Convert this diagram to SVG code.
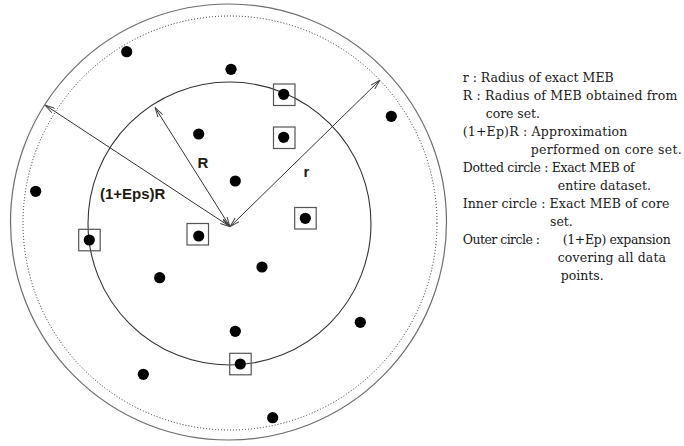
<svg xmlns="http://www.w3.org/2000/svg" width="684" height="446" viewBox="0 0 684 446">
  <style>
    .ring { fill: none; }
    .outer { stroke: #6e6e6e; stroke-width: 1.2; }
    .dotted { stroke: #2a2a2a; stroke-width: 1; stroke-dasharray: 1 2; }
    .inner { stroke: #333; stroke-width: 1.1; }
    .pt { fill: #000; }
    .core { fill: none; stroke: #555; stroke-width: 1.2; }
    .radius { stroke: #333; stroke-width: 1; fill: none; marker-start: url(#tip); marker-end: url(#tip); }
    .lbl { font-family: "Liberation Sans", Arial, sans-serif; font-weight: bold; font-size: 15px; fill: #1f1a12; }
    .key { font-family: "DejaVu Serif", "Liberation Serif", serif; font-size: 12.5px; fill: #1a1a1a; }
  </style>
  <defs>
    <marker id="tip" viewBox="0 0 10 6" refX="10" refY="3" markerWidth="10" markerHeight="6" markerUnits="userSpaceOnUse" orient="auto-start-reverse">
      <path d="M0,0.3 L10,3 L0,5.7" fill="none" stroke="#444" stroke-width="1"/>
    </marker>
  </defs>

  <rect width="684" height="446" fill="#fff"/>

  <!-- enclosing balls -->
  <g id="outer-circle"><circle class="ring outer" cx="228.5" cy="222" r="218"/></g>
  <g id="dotted-circle"><circle class="ring dotted" cx="230" cy="223" r="207"/></g>
  <g id="inner-circle"><circle class="ring inner" cx="229.5" cy="223.5" r="141.5"/></g>

  <!-- radius arrows -->
  <g id="connectors">
    <line class="radius" x1="230" y1="226.7" x2="45" y2="105"/>
    <line class="radius" x1="230" y1="226.7" x2="155" y2="107.5"/>
    <line class="radius" x1="230" y1="226.7" x2="380" y2="80"/>
  </g>

  <!-- radius labels -->
  <g id="label-eps"><text class="lbl" x="100" y="199">(1+Eps)R</text></g>
  <g id="label-R"><text class="lbl" x="197.5" y="167.5">R</text></g>
  <g id="label-r"><text class="lbl" x="303.5" y="176.5">r</text></g>

  <!-- core set points (boxed) -->
  <g id="core-points">
    <rect class="core" x="273.5" y="84" width="21.5" height="21.5"/>
    <rect class="core" x="273.5" y="127" width="21.5" height="21.5"/>
    <rect class="core" x="294.7" y="207.5" width="21.5" height="21.5"/>
    <rect class="core" x="78.7" y="229.3" width="21.5" height="21.5"/>
    <rect class="core" x="187" y="223.5" width="21.5" height="21.5"/>
    <rect class="core" x="229.7" y="353.3" width="21.5" height="21.5"/>
  </g>

  <!-- data points -->
  <g id="points">
    <circle class="pt" cx="126.7" cy="51.7" r="5.6"/>
    <circle class="pt" cx="231" cy="69.3" r="5.6"/>
    <circle class="pt" cx="283.7" cy="94.3" r="5.6"/>
    <circle class="pt" cx="391.3" cy="116.3" r="5.6"/>
    <circle class="pt" cx="198.7" cy="134" r="5.6"/>
    <circle class="pt" cx="283.7" cy="137.3" r="5.6"/>
    <circle class="pt" cx="235.3" cy="181" r="5.6"/>
    <circle class="pt" cx="35.7" cy="191.3" r="5.6"/>
    <circle class="pt" cx="305.3" cy="218.3" r="5.6"/>
    <circle class="pt" cx="89.3" cy="240" r="5.6"/>
    <circle class="pt" cx="198.7" cy="236" r="5.6"/>
    <circle class="pt" cx="262" cy="267" r="5.6"/>
    <circle class="pt" cx="159.7" cy="277.7" r="5.6"/>
    <circle class="pt" cx="360.3" cy="322.3" r="5.6"/>
    <circle class="pt" cx="235.3" cy="331.3" r="5.6"/>
    <circle class="pt" cx="240.3" cy="364" r="5.6"/>
    <circle class="pt" cx="143.3" cy="374.3" r="5.6"/>
    <circle class="pt" cx="272.7" cy="417.7" r="5.6"/>
  </g>

  <!-- legend -->
  <g id="legend" class="key">
    <text class="key" x="462.7" y="82" textLength="151" lengthAdjust="spacing">r : Radius of exact MEB</text>
    <text class="key" x="462.7" y="100" textLength="214.6" lengthAdjust="spacing">R : Radius of MEB obtained from</text>
    <text class="key" x="485.7" y="118" textLength="54.3" lengthAdjust="spacing">core set.</text>
    <text class="key" x="462.7" y="136" textLength="164.7" lengthAdjust="spacing">(1+Ep)R : Approximation</text>
    <text class="key" x="530.7" y="154" textLength="151" lengthAdjust="spacing">performed on core set.</text>
    <text class="key" x="462.7" y="172" textLength="172" lengthAdjust="spacing">Dotted circle : Exact MEB of</text>
    <text class="key" x="557.7" y="190" textLength="93.3" lengthAdjust="spacing">entire dataset.</text>
    <text class="key" x="462.7" y="208" textLength="206.7" lengthAdjust="spacing">Inner circle : Exact MEB of core</text>
    <text class="key" x="550" y="226">set.</text>
    <text class="key" x="462.7" y="244" textLength="77.3" lengthAdjust="spacing">Outer circle :</text>
    <text class="key" x="562.7" y="244" textLength="108" lengthAdjust="spacing">(1+Ep) expansion</text>
    <text class="key" x="557.7" y="262" textLength="108.3" lengthAdjust="spacing">covering all data</text>
    <text class="key" x="560.7" y="280">points.</text>
  </g>
</svg>
